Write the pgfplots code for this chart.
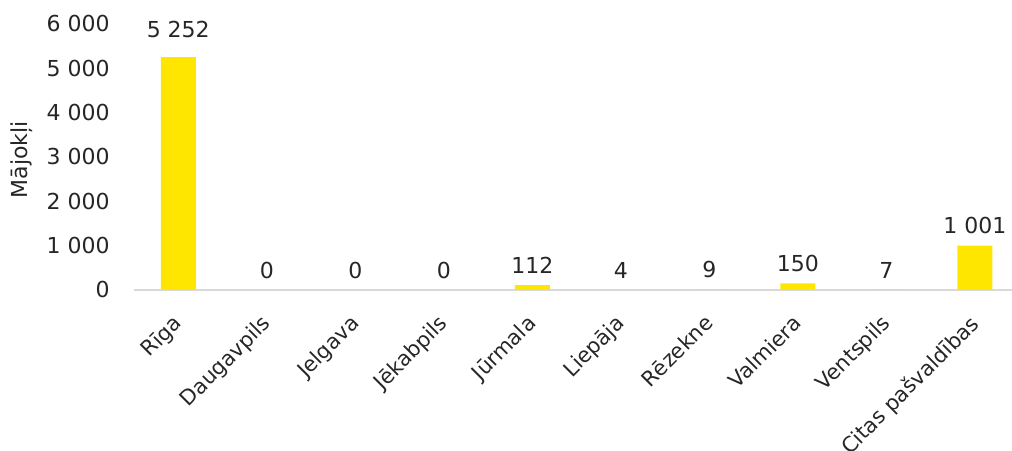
\documentclass[border=0pt]{standalone}
\usepackage{pgfplots}
\pgfplotsset{compat=1.18}
\usepackage{fontspec}
\setmainfont{DejaVu Sans}
\definecolor{barY}{HTML}{FFE600}
\definecolor{axisG}{HTML}{D9D9D9}
\definecolor{txt}{HTML}{262626}
\begin{document}
\begin{tikzpicture}[font=\fontsize{11bp}{13bp}\selectfont, text=txt]
\begin{axis}[
  name=ax,
  scale only axis,
  width=439bp, height=133bp,
  xmin=-0.5, xmax=9.42,
  ymin=0, ymax=6000,
  axis x line*=bottom,
  axis y line*=left,
  x axis line style={draw=axisG, line width=0.9bp, -},
  y axis line style={draw=none},
  ytick={0,1000,...,6000},
  xtick={0,...,9},
  xticklabels={Rīga,Daugavpils,Jelgava,Jēkabpils,Jūrmala,Liepāja,Rēzekne,Valmiera,Ventspils,Citas pašvaldības},
  major tick length=0pt,
  scaled y ticks=false,
  /pgf/number format/.cd, 1000 sep={\ }, assume math mode=true,
  /pgfplots/.cd,
  xticklabel style={font=\fontsize{10.5bp}{12bp}\selectfont, xshift=-3.2bp, yshift=-11.5bp, rotate=45, anchor=north east, inner sep=0pt},
  yticklabel style={anchor=east, inner sep=0pt, xshift=-12bp},
  ylabel={Mājokļi},
  ylabel style={at={(rel axis cs:0,0.49)}, anchor=center, rotate=0, yshift=56bp},
  clip=false,
  ybar, bar width=17.5bp,
  nodes near coords,
  visualization depends on={y \as \rawy},
  every node near coord/.append style={inner sep=0pt, anchor=south, yshift={(\rawy>5000)*4+5.5}, text=txt},
]
\addplot+[fill=barY, draw=none, bar shift=0pt] coordinates {
  (0,5252) (1,0) (2,0) (3,0) (4,112) (5,4) (6,9) (7,150) (8,7) (9,1001)
};
\end{axis}
\pgfresetboundingbox
\path[use as bounding box] ([xshift=-67bp,yshift=-80.5bp]ax.south west) rectangle ([yshift=12bp]ax.north east);
\end{tikzpicture}
\end{document}
